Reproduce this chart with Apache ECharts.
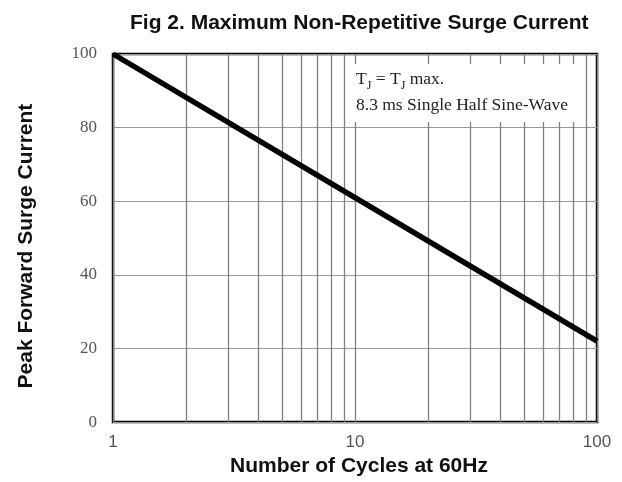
<!DOCTYPE html>
<html>
<head>
<meta charset="utf-8">
<script src="https://cdn.jsdelivr.net/npm/echarts@6/dist/echarts.min.js"></script>
<style>html,body{margin:0;padding:0;background:#fff;}#c{width:622px;height:482px;}</style>
</head>
<body>
<div id="c"></div>
<script>
// Data
const cycles = [1, 10, 100];
const surgeCurrent = [100, 61, 22];
const minorGridX = [2, 3, 4, 5, 6, 7, 8, 9, 20, 30, 40, 50, 60, 70, 80, 90];
const xTickLabels = [1, 10, 100];
const yTicks = [0, 20, 40, 60, 80, 100];

const chart = echarts.init(document.getElementById('c'), null, {renderer: 'canvas'});
const option = {
  animation: false,
  backgroundColor: '#fff',
  title: {
    text: 'Fig 2. Maximum Non-Repetitive Surge Current',
    left: 125, top: 8,
    textStyle: {fontFamily: 'Liberation Sans', fontWeight: 'bold', fontSize: 21, color: '#111'}
  },
  grid: {left: 113, right: 25, top: 54, bottom: 58, show: true, borderColor: '#000', borderWidth: 2.5, backgroundColor: 'transparent'},
  xAxis: {
    type: 'log', logBase: 10, min: 1, max: 100,
    name: 'Number of Cycles at 60Hz', nameLocation: 'middle', nameGap: 29,
    nameTextStyle: {fontFamily: 'Liberation Sans', fontWeight: 'bold', fontSize: 21, color: '#111', padding: [0, 0, 0, 8]},
    axisLine: {show: false}, axisTick: {show: false},
    axisLabel: {
      margin: 12, fontFamily: 'Liberation Sans', fontSize: 17, color: '#555',
      formatter: v => xTickLabels.indexOf(Math.round(v)) >= 0 ? String(Math.round(v)) : ''
    },
    splitLine: {show: true, lineStyle: {color: '#808080', width: 1.3}}
  },
  yAxis: {
    type: 'value', min: 0, max: 100, interval: 20,
    name: 'Peak Forward Surge Current', nameLocation: 'middle', nameGap: 76,
    nameTextStyle: {fontFamily: 'Liberation Sans', fontWeight: 'bold', fontSize: 21, color: '#111', padding: [0, 16, 0, 0]},
    axisLine: {show: false}, axisTick: {show: false},
    axisLabel: {
      margin: 16, fontFamily: 'Liberation Serif', fontSize: 17, color: '#555',
      formatter: v => yTicks.indexOf(v) >= 0 ? String(v) : ''
    },
    splitLine: {show: true, lineStyle: {color: '#999', width: 1.2}}
  },
  series: [{
    type: 'line',
    data: cycles.map((c, i) => [c, surgeCurrent[i]]),
    showSymbol: false, symbol: 'none',
    lineStyle: {color: '#000', width: 5.5},
    z: 5,
    markLine: {
      silent: true, symbol: 'none', animation: false,
      label: {show: false},
      lineStyle: {type: 'solid', color: '#808080', width: 1.3},
      data: minorGridX.map(v => ({xAxis: v})),
      z: 1
    }
  }],
  graphic: [
    {type: 'rect', left: 350, top: 64, z: 100, zlevel: 0,
     shape: {width: 233, height: 58}, style: {fill: '#fff'}},
    {type: 'text', left: 356, top: 70, z: 101, zlevel: 0, style: {
      text: '{a|T}{s|J}{a| = T}{s|J}{a| max.}\n{a|8.3 ms Single Half Sine-Wave}',
      rich: {
        a: {fontFamily: 'Liberation Serif', fontSize: 17.5, lineHeight: 26, fill: '#222', verticalAlign: 'middle'},
        s: {fontFamily: 'Liberation Serif', fontSize: 12, lineHeight: 18, fill: '#222', verticalAlign: 'bottom'}
      }
    }}
  ]
};
chart.setOption(option);
</script>
</body>
</html>
